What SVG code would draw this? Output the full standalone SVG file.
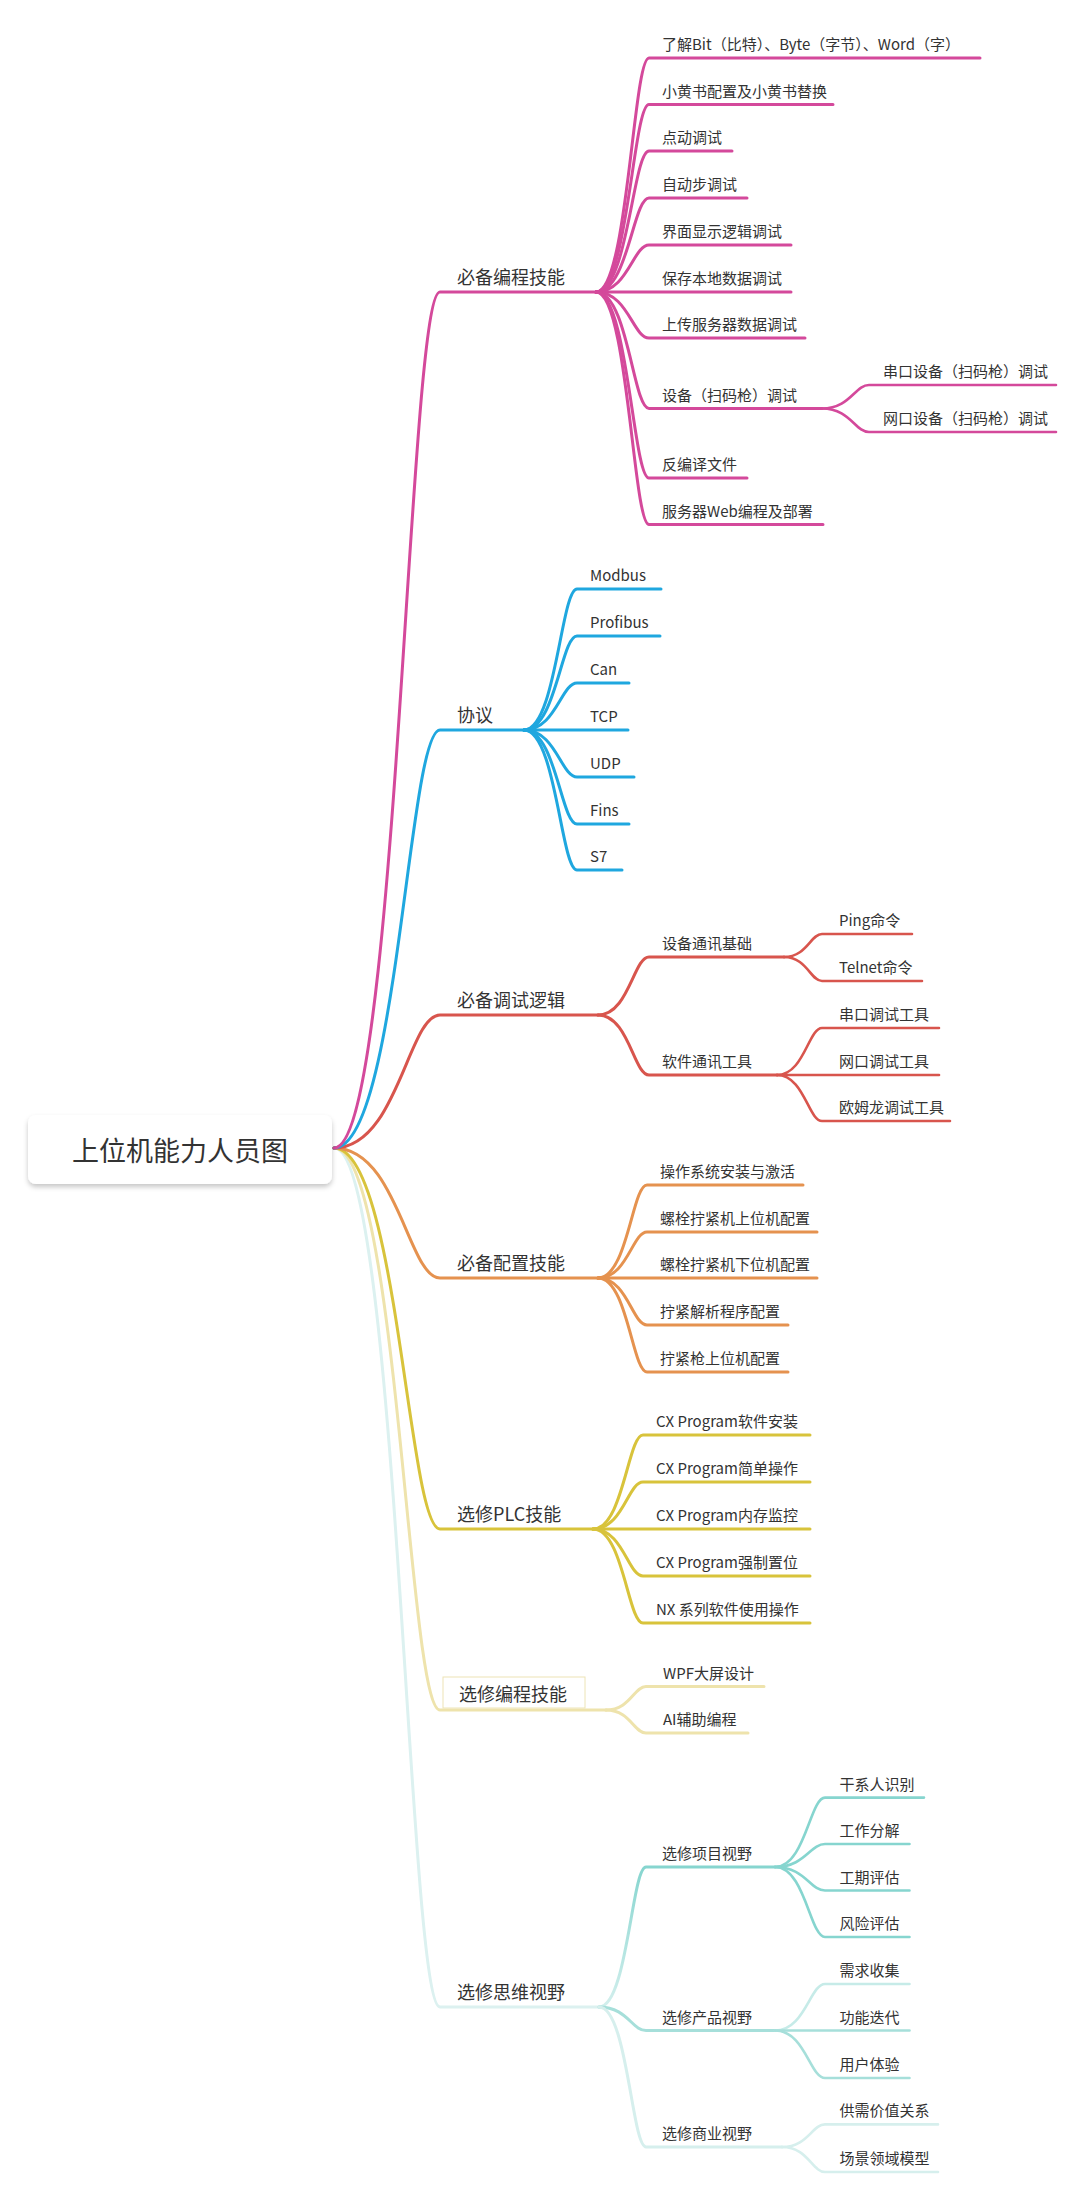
<svg xmlns="http://www.w3.org/2000/svg" width="1080" height="2200" viewBox="0 0 1080 2200">
<defs>
<style>
.t{font-family:"Noto Sans CJK SC","Noto Sans",sans-serif;fill:#333333;}
.t0{font-size:27px;}
.t1{font-size:18px;}
.t2{font-size:15px;}
.c{fill:none;stroke-linecap:round;stroke-linejoin:round;stroke-width:3;}
.c3{stroke-width:2.6;}
.pk{stroke:#D4499B;}
.bl{stroke:#1FA7DF;}
.rd{stroke:#D8554D;}
.or{stroke:#E5924F;}
.ye{stroke:#D8C33B;}
.py{stroke:#EEE3AC;}
.pc{stroke:#DCF1F0;}
.tl{stroke:#86D5CF;}
.tl2{stroke:#A6DFDA;}
.tl3{stroke:#C6EBE8;}
.tl4{stroke:#D6EFED;}
</style>
<linearGradient id="gProj" gradientUnits="userSpaceOnUse" x1="0" y1="2007" x2="0" y2="1867">
<stop offset="0" stop-color="#D3EFED"/>
<stop offset="1" stop-color="#86D5CF"/>
</linearGradient>
<filter id="sh" x="-10%" y="-20%" width="120%" height="160%">
<feDropShadow dx="0" dy="3" stdDeviation="2.5" flood-color="#000000" flood-opacity="0.22"/>
</filter>
</defs>
<rect x="0" y="0" width="1080" height="2200" fill="#FFFFFF"/>

<g id="connectors">
<!-- root to level 1 -->
<path class="c pc" d="M334,1148 C397.6,1148 408.2,2007 440,2007 H599"/>
<path class="c py" d="M334,1148 C397.6,1148 408.2,1710 440,1710 H606"/>
<path class="c ye" d="M334,1148 C397.6,1148 408.2,1529 440,1529 H593"/>
<path class="c or" d="M334,1148 C397.6,1148 408.2,1278 440,1278 H598"/>
<path class="c rd" d="M334,1148 C397.6,1148 408.2,1015 440,1015 H598"/>
<path class="c bl" d="M334,1148 C397.6,1148 408.2,730 440,730 H524"/>
<path class="c pk" d="M334,1148 C397.6,1148 408.2,292 440,292 H596"/>

<!-- group 1 -->
<path class="c pk" d="M596,292 C627.8,292 633.1,58 649,58 H980"/>
<path class="c pk" d="M596,292 C627.8,292 633.1,104.5 649,104.5 H833"/>
<path class="c pk" d="M596,292 C627.8,292 633.1,151 649,151 H732"/>
<path class="c pk" d="M596,292 C627.8,292 633.1,198 649,198 H747"/>
<path class="c pk" d="M596,292 C627.8,292 633.1,245 649,245 H791"/>
<path class="c pk" d="M596,292 H791"/>
<path class="c pk" d="M596,292 C627.8,292 633.1,338 649,338 H805"/>
<path class="c pk" d="M596,292 C627.8,292 633.1,408.5 649,408.5 H822"/>
<path class="c pk" d="M596,292 C627.8,292 633.1,478 649,478 H747"/>
<path class="c pk" d="M596,292 C627.8,292 633.1,524.5 649,524.5 H823"/>
<path class="c c3 pk" d="M822,408.5 C850.2,408.5 854.9,385 869,385 H1056"/>
<path class="c c3 pk" d="M822,408.5 C850.2,408.5 854.9,432 869,432 H1056"/>

<!-- group 2 -->
<path class="c bl" d="M524,730 C555.8,730 561.1,589 577,589 H661"/>
<path class="c bl" d="M524,730 C555.8,730 561.1,636 577,636 H660"/>
<path class="c bl" d="M524,730 C555.8,730 561.1,683 577,683 H629"/>
<path class="c bl" d="M524,730 H628"/>
<path class="c bl" d="M524,730 C555.8,730 561.1,777 577,777 H634"/>
<path class="c bl" d="M524,730 C555.8,730 561.1,824 577,824 H629"/>
<path class="c bl" d="M524,730 C555.8,730 561.1,870 577,870 H622"/>

<!-- group 3 -->
<path class="c rd" d="M598,1015 C628.6,1015 633.7,957 649,957 H784"/>
<path class="c rd" d="M598,1015 C628.6,1015 633.7,1075 649,1075 H777"/>
<path class="c c3 rd" d="M784,957 C806.8,957 810.6,934 822,934 H912"/>
<path class="c c3 rd" d="M784,957 C806.8,957 810.6,981 822,981 H922"/>
<path class="c c3 rd" d="M777,1075 C804,1075 808.5,1028 822,1028 H939"/>
<path class="c c3 rd" d="M777,1075 H939"/>
<path class="c c3 rd" d="M777,1075 C804,1075 808.5,1121 822,1121 H950"/>

<!-- group 4 -->
<path class="c or" d="M598,1278 C627.4,1278 632.3,1185 647,1185 H803"/>
<path class="c or" d="M598,1278 C627.4,1278 632.3,1232 647,1232 H817"/>
<path class="c or" d="M598,1278 H817"/>
<path class="c or" d="M598,1278 C627.4,1278 632.3,1325 647,1325 H788"/>
<path class="c or" d="M598,1278 C627.4,1278 632.3,1372 647,1372 H788"/>

<!-- group 5 -->
<path class="c ye" d="M593,1529 C623,1529 628,1435 643,1435 H810"/>
<path class="c ye" d="M593,1529 C623,1529 628,1482 643,1482 H810"/>
<path class="c ye" d="M593,1529 H810"/>
<path class="c ye" d="M593,1529 C623,1529 628,1576 643,1576 H810"/>
<path class="c ye" d="M593,1529 C623,1529 628,1623 643,1623 H810"/>

<!-- group 6 -->
<path class="c py" d="M606,1710 C630,1710 634,1686.5 646,1686.5 H764"/>
<path class="c py" d="M606,1710 C630,1710 634,1733 646,1733 H748"/>

<!-- group 7 -->
<path class="c" stroke="url(#gProj)" d="M599,2007 C627.2,2007 631.9,1867 646,1867 H775"/>
<path class="c tl2" d="M599,2007 C627.2,2007 631.9,2030.5 646,2030.5 H775"/>
<path class="c tl4" d="M599,2007 C627.2,2007 631.9,2147 646,2147 H782"/>
<path class="c c3 tl" d="M775,1867 C805,1867 810,1797.6 825,1797.6 H924"/>
<path class="c c3 tl" d="M775,1867 C805,1867 810,1844 825,1844 H909.5"/>
<path class="c c3 tl" d="M775,1867 C805,1867 810,1890.5 825,1890.5 H909.5"/>
<path class="c c3 tl" d="M775,1867 C805,1867 810,1937 825,1937 H909.5"/>
<path class="c c3 tl3" d="M775,2030.5 C805,2030.5 810,1984 825,1984 H909.5"/>
<path class="c c3 tl2" d="M775,2030.5 H909.5"/>
<path class="c c3 tl2" d="M775,2030.5 C805,2030.5 810,2078 825,2078 H909.5"/>
<path class="c c3 tl4" d="M782,2147 C807.8,2147 812.1,2124.4 825,2124.4 H938"/>
<path class="c c3 tl4" d="M782,2147 C807.8,2147 812.1,2172 825,2172 H938"/>
</g>

<g id="root">
<rect x="28" y="1115" width="304" height="69" rx="8" ry="8" fill="#FFFFFF" filter="url(#sh)"/>
<text class="t t0" x="180" y="1161" text-anchor="middle">上位机能力人员图</text>
</g>

<g id="n-biancheng">
<text class="t t1" x="457" y="284">必备编程技能</text>
<text class="t t2" x="662" y="50">了解Bit（比特）、Byte（字节）、Word（字）</text>
<text class="t t2" x="662" y="96.5">小黄书配置及小黄书替换</text>
<text class="t t2" x="662" y="143">点动调试</text>
<text class="t t2" x="662" y="190">自动步调试</text>
<text class="t t2" x="662" y="237">界面显示逻辑调试</text>
<text class="t t2" x="662" y="284">保存本地数据调试</text>
<text class="t t2" x="662" y="330">上传服务器数据调试</text>
<text class="t t2" x="662" y="400.5">设备（扫码枪）调试</text>
<text class="t t2" x="883" y="377">串口设备（扫码枪）调试</text>
<text class="t t2" x="883" y="424">网口设备（扫码枪）调试</text>
<text class="t t2" x="662" y="470">反编译文件</text>
<text class="t t2" x="662" y="516.5">服务器Web编程及部署</text>
</g>

<g id="n-xieyi">
<text class="t t1" x="457" y="722">协议</text>
<text class="t t2" x="590" y="581">Modbus</text>
<text class="t t2" x="590" y="628">Profibus</text>
<text class="t t2" x="590" y="675">Can</text>
<text class="t t2" x="590" y="722">TCP</text>
<text class="t t2" x="590" y="769">UDP</text>
<text class="t t2" x="590" y="816">Fins</text>
<text class="t t2" x="590" y="862">S7</text>
</g>

<g id="n-tiaoshi">
<text class="t t1" x="457" y="1007">必备调试逻辑</text>
<text class="t t2" x="662" y="949">设备通讯基础</text>
<text class="t t2" x="839" y="926">Ping命令</text>
<text class="t t2" x="839" y="973">Telnet命令</text>
<text class="t t2" x="662" y="1067">软件通讯工具</text>
<text class="t t2" x="839" y="1020">串口调试工具</text>
<text class="t t2" x="839" y="1067">网口调试工具</text>
<text class="t t2" x="839" y="1113">欧姆龙调试工具</text>
</g>

<g id="n-peizhi">
<text class="t t1" x="457" y="1270">必备配置技能</text>
<text class="t t2" x="660" y="1177">操作系统安装与激活</text>
<text class="t t2" x="660" y="1224">螺栓拧紧机上位机配置</text>
<text class="t t2" x="660" y="1270">螺栓拧紧机下位机配置</text>
<text class="t t2" x="660" y="1317">拧紧解析程序配置</text>
<text class="t t2" x="660" y="1364">拧紧枪上位机配置</text>
</g>

<g id="n-plc">
<text class="t t1" x="457" y="1521">选修PLC技能</text>
<text class="t t2" x="656" y="1427">CX Program软件安装</text>
<text class="t t2" x="656" y="1474">CX Program简单操作</text>
<text class="t t2" x="656" y="1521">CX Program内存监控</text>
<text class="t t2" x="656" y="1568">CX Program强制置位</text>
<text class="t t2" x="656" y="1615">NX 系列软件使用操作</text>
</g>

<g id="n-xuanxiu-biancheng">
<rect x="443" y="1677" width="142" height="31" fill="#FFFFFF" stroke="#EDE4B6" stroke-width="1"/>
<text class="t t1" x="459" y="1701">选修编程技能</text>
<text class="t t2" x="663" y="1678.5">WPF大屏设计</text>
<text class="t t2" x="663" y="1725">AI辅助编程</text>
</g>

<g id="n-siwei">
<text class="t t1" x="457" y="1999">选修思维视野</text>
<text class="t t2" x="662" y="1859">选修项目视野</text>
<text class="t t2" x="839.5" y="1789.6">干系人识别</text>
<text class="t t2" x="839.5" y="1836">工作分解</text>
<text class="t t2" x="839.5" y="1882.5">工期评估</text>
<text class="t t2" x="839.5" y="1929">风险评估</text>
<text class="t t2" x="662" y="2022.5">选修产品视野</text>
<text class="t t2" x="839.5" y="1976">需求收集</text>
<text class="t t2" x="839.5" y="2022.5">功能迭代</text>
<text class="t t2" x="839.5" y="2070">用户体验</text>
<text class="t t2" x="662" y="2139">选修商业视野</text>
<text class="t t2" x="839.5" y="2116.4">供需价值关系</text>
<text class="t t2" x="839.5" y="2164">场景领域模型</text>
</g>
</svg>
